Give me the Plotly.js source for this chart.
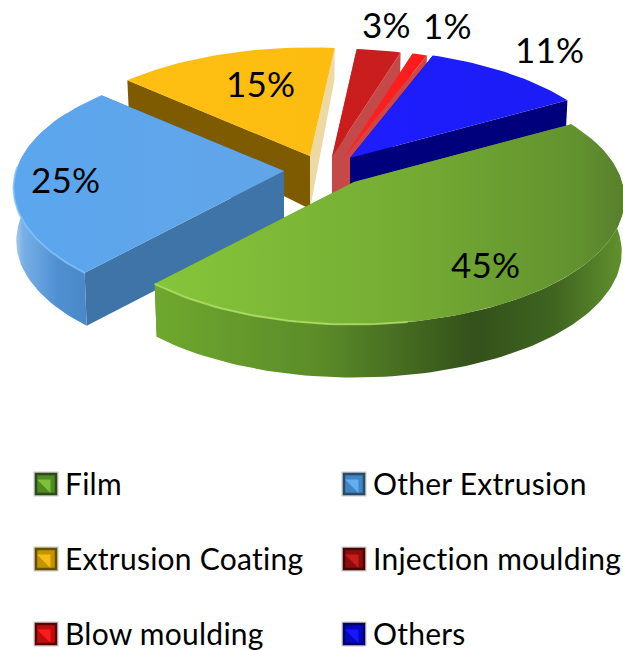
<!DOCTYPE html>
<html>
<head>
<meta charset="utf-8">
<script src="https://cdn.plot.ly/plotly-3.0.1.min.js"></script>
<style>html,body{margin:0;padding:0;background:#fff}#chart{width:623px;height:650px}.annotation-text{letter-spacing:.25px}</style>
</head>
<body>
<div id="chart"></div>
<script>
// Plastics end-use shares, drawn as a tilted, exploded pie.
const categories = ["Film", "Other Extrusion", "Extrusion Coating", "Injection moulding", "Blow moulding", "Others"];
const shares = [45, 25, 15, 3, 1, 11];

// Styling per category: top face, radial walls, rim highlight, legend swatch.
const topColors = [
  [[0, "#86c63a"], [0.55, "#74ab33"], [0.9, "#62922f"], [1, "#587f2c"]],
  [[0, "#5ba6ee"], [1, "#62a5e8"]],
  [[0, "#ffbf12"], [1, "#fcbc10"]],
  [[0, "#cc1c1c"], [1, "#c81e1e"]],
  [[0, "#ff2222"], [1, "#ff1a1a"]],
  [[0, "#1d1dff"], [1, "#1c1cf5"]]
];
const outerWall = [
  [[0, "#6fa82e"], [0.35, "#5b8c29"], [0.68, "#33511a"], [0.85, "#3f6420"], [1, "#62922e"]],
  [[0, "#b4d3ef"], [0.13, "#78b0e6"], [0.6, "#4f90d2"], [1, "#4a88c6"]],
  [[0, "#7f5f00"], [1, "#7f5f00"]],
  [[0, "#8a1010"], [1, "#8a1010"]],
  [[0, "#cc2222"], [1, "#cc2222"]],
  [[0, "#00007f"], [1, "#00007f"]]
];
const startFaces = ["#5d8a2c", "#3f74a8", "#7f5b00", "#c44a4a", "#cf4646", "#00007c"];
const endFaces = ["#5d8a2c", "#3f74a8", "#ecd9a4", "#c44a4a", "#cf4646", "#00007c"];
const rimColors = ["#b7e36c", "#7fc2f7", null, null, null, null];
const swatchColors = ["#4f8a22", "#3f86c4", "#c49400", "#8f0c0c", "#c00c0c", "#0606c0"];
const swatchLights = ["#7cc03a", "#62aef0", "#f5bd14", "#c81c1c", "#fa1c1c", "#1818fa"];
const swatchEdges = ["#2f4a18", "#2a4a68", "#665000", "#470505", "#580505", "#040466"];

// Projection of the pie disc: radius, tilt, perspective, wall height, first slice angle.
const radius = 268, tilt = 0.46, depth = 0.135, wallHeight = 53, startAngle = 60;
// The lower ring sits slightly further from the camera than the top ring.
const lowerRingScale = 0.99;
// Screen position of each slice's tip once exploded.
const tips = [[354, 182], [284, 171], [310, 156], [332, 157], [344, 158], [350, 158]];
// Painting order, back to front.
const paintOrder = [3, 4, 5, 2, 1, 0];
const labelSpots = [[485, 264], [65, 179], [260, 83], [386, 24], [447, 25], [549, 49]];
const legendCols = [46, 354], legendRows = [484, 559, 634];

const rad = d => d * Math.PI / 180;
function project(tip, deg) {
  const u = Math.sin(rad(deg)), v = Math.cos(rad(deg)), w = 1 + depth * v;
  return { x: tip[0] + radius * u / w, y: tip[1] - radius * tilt * v / w, v };
}
const drop = v => wallHeight * (1 - 0.4 * Math.max(v, 0));
function arc(tip, a, b) {
  const pts = [], n = Math.max(2, Math.ceil((b - a) / 1.5));
  for (let i = 0; i <= n; i++) pts.push(project(tip, a + (b - a) * i / n));
  return pts;
}
function polygon(pts, fill) {
  const t = {
    type: "scatter", mode: "lines", x: pts.map(p => p.x), y: pts.map(p => p.y),
    line: { width: 0 }, fill: "toself", hoverinfo: "skip", showlegend: false
  };
  if (typeof fill === "string") t.fillcolor = fill;
  else t.fillgradient = { type: "horizontal", colorscale: fill };
  return t;
}

// Cumulative slice angles, clockwise from the start angle.
const spans = [];
let cursor = startAngle;
shares.forEach(s => { spans.push([cursor, cursor + s * 3.6]); cursor += s * 3.6; });

const traces = [];
paintOrder.forEach(i => {
  const tip = tips[i], [a, b] = spans[i];
  const apex = { x: tip[0], y: tip[1], v: 0 };
  const pa = project(tip, a), pb = project(tip, b);
  const lowered = p => ({ x: tip[0] + (p.x - tip[0]) * lowerRingScale, y: p.y + drop(p.v) });
  // Radial walls, then the outer band where it faces the viewer, then the top face.
  // The band runs past the silhouette on both sides; the top face hides the excess.
  traces.push(polygon([apex, pa, lowered(pa), lowered(apex)], startFaces[i]));
  traces.push(polygon([apex, pb, lowered(pb), lowered(apex)], endFaces[i]));
  const from = Math.max(a, 70), to = Math.min(b, 300);
  if (to > from) {
    const outer = arc(tip, from, to);
    traces.push(polygon(outer.concat(outer.map(lowered).reverse()), outerWall[i]));
  }
  traces.push(polygon([apex].concat(arc(tip, a, b)), topColors[i]));
  if (rimColors[i] && to > from) {
    const rimFrom = i === 0 ? 170 : from, rim = arc(tip, rimFrom, Math.min(to, 272));
    traces.push({
      type: "scatter", mode: "lines", x: rim.map(p => p.x), y: rim.map(p => p.y),
      line: { color: rimColors[i], width: 2 }, opacity: 0.75, hoverinfo: "skip", showlegend: false
    });
  }
});

// Legend swatches in two columns: soft halo, bevelled square, lit corner.
categories.forEach((c, i) => {
  const x = [legendCols[i % 2]], y = [legendRows[Math.floor(i / 2)]];
  const mark = (symbol, size, color, line) => traces.push({
    type: "scatter", mode: "markers", x, y,
    marker: { symbol, size, color, line }, hoverinfo: "skip", showlegend: false
  });
  mark("square", 25, "#c8c8c8", { width: 0 });
  mark("square", 20, swatchColors[i], { color: swatchEdges[i], width: 2.5 });
  mark("triangle-ne", 15, swatchLights[i], { width: 0 });
});

const ink = "#000000", face = "Lato, Liberation Sans, sans-serif";
const annotations = [];
shares.forEach((s, i) => annotations.push({
  x: labelSpots[i][0], y: labelSpots[i][1], text: s + "%", showarrow: false,
  xanchor: "center", yanchor: "middle", font: { family: face, size: 35, color: ink }
}));
categories.forEach((c, i) => annotations.push({
  x: legendCols[i % 2] + 17, y: legendRows[Math.floor(i / 2)] - 1, text: c, showarrow: false,
  xanchor: "left", yanchor: "middle", font: { family: face, size: 30, color: ink }
}));

Plotly.newPlot("chart", traces, {
  width: 623, height: 650, margin: { l: 0, r: 0, t: 0, b: 0 },
  paper_bgcolor: "#ffffff", plot_bgcolor: "#ffffff", showlegend: false,
  xaxis: { range: [0, 623], visible: false, fixedrange: true },
  yaxis: { range: [650, 0], visible: false, fixedrange: true },
  annotations
}, { displayModeBar: false, staticPlot: true });
</script>
</body>
</html>
